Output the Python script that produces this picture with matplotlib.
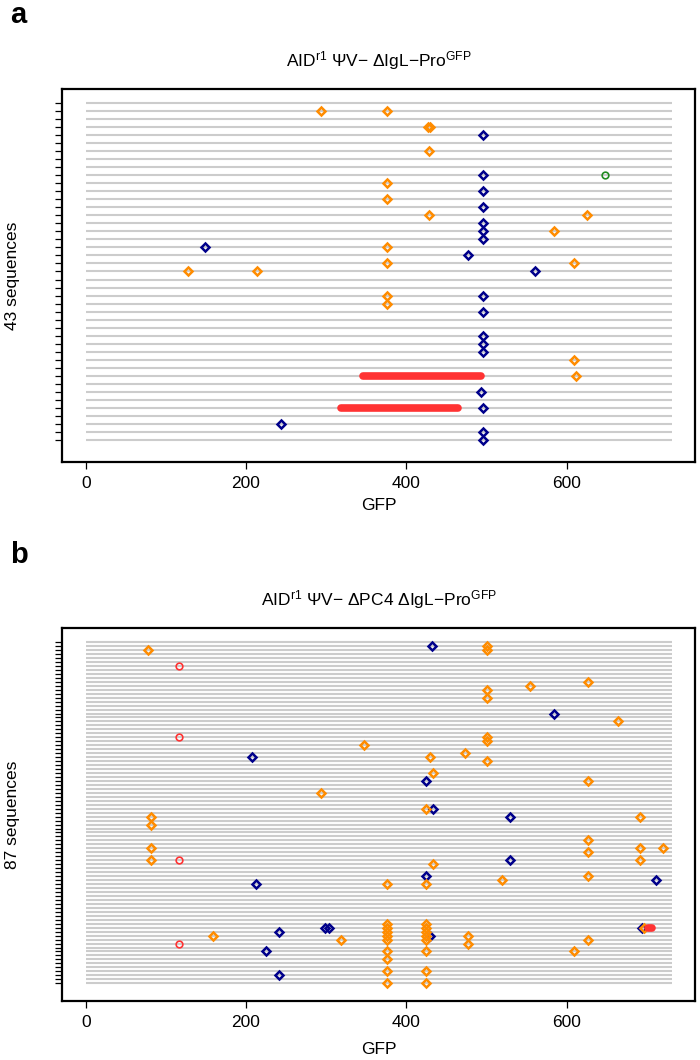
import numpy as np
import matplotlib
matplotlib.use("Agg")
import matplotlib.pyplot as plt

plt.rcParams['font.family'] = ['Liberation Sans', 'DejaVu Sans']
plt.rcParams['mathtext.fontset'] = 'custom'
plt.rcParams['mathtext.rm'] = 'Liberation Sans'
plt.rcParams['mathtext.it'] = 'Liberation Sans:italic'

# length of the GFP sequence (x range of the grey lines)
GFP_LEN = 731

# ---- panel a: 43 sequences, row 1 is the top line ----
a_title = "AID$^{\\mathrm{r1}}$ \u03a8V\u2212 \u0394IgL\u2212Pro$^{\\mathrm{GFP}}$"
a_n = 43
a_orange_row = [2, 2, 4, 4, 7, 11, 13, 15, 15, 17, 19, 21, 21, 22, 22, 25, 26, 33, 35]
a_orange_x = [293, 376, 427, 430, 428, 376, 376, 428, 625, 584, 376, 376, 609, 127, 214, 376, 376, 609, 612]
a_navy_row = [5, 10, 12, 14, 16, 17, 18, 19, 20, 22, 25, 27, 30, 31, 32, 37, 39, 41, 42, 43]
a_navy_x = [496, 496, 496, 496, 496, 496, 496, 149, 477, 561, 496, 496, 496, 496, 496, 493, 496, 244, 496, 496]
a_circle_row = [10]
a_circle_x = [648]
a_del_row = [35, 39]
a_del_start = [346, 318]
a_del_end = [493, 465]

# ---- panel b: 87 sequences ----
b_title = "AID$^{\\mathrm{r1}}$ \u03a8V\u2212 \u0394PC4 \u0394IgL\u2212Pro$^{\\mathrm{GFP}}$"
b_n = 87
b_orange_row = [2, 3, 3, 11, 12, 13, 15, 21, 25, 26, 27, 29, 30, 31, 34, 36, 39, 43,
                45, 45, 47, 51, 53, 53, 53, 54, 56, 56, 57, 60, 61, 62, 62,
                72, 72, 73, 73, 73, 74, 74, 75, 75, 75, 75, 76, 76, 76, 76, 77,
                79, 79, 79, 81, 84, 84, 87, 87]
b_orange_x = [501, 78, 501, 627, 554, 501, 501, 664, 501, 501, 347, 473, 430, 501, 433, 627, 294, 424,
              81, 691, 81, 627, 81, 691, 720, 627, 81, 691, 433, 627, 520, 376, 424,
              376, 424, 376, 424, 697, 376, 424, 376, 424, 159, 477, 376, 424, 318, 627, 477,
              376, 424, 609, 376, 376, 424, 376, 424]
b_navy_row = [2, 19, 30, 36, 43, 45, 56, 60, 61, 62, 73, 73, 73, 74, 75, 79, 85]
b_navy_x = [432, 584, 207, 424, 433, 529, 529, 424, 712, 213, 298, 304, 694, 241, 430, 225, 241]
b_circle_row = [7, 25, 56, 77]
b_circle_x = [117, 117, 117, 117]
b_del_row = [73]
b_del_start = [702]
b_del_end = [706]

W, H = 700, 1060
fig = plt.figure(figsize=(7, 10.6), dpi=100)


def fx(px):
    return px / W


def fy(py):
    return 1 - py / H


def draw_panel(ax, n, orange_row, orange_x, navy_row, navy_x, circ_row, circ_x, circ_color,
               del_row, del_start, del_end):
    rows = np.arange(1, n + 1)
    ax.hlines(rows, 0, GFP_LEN, colors='#cccccc', lw=1.5, zorder=1)
    ax.plot(navy_x, navy_row, ls='none', marker='D', ms=4.3, mfc='none', mec='#00008b', mew=1.8, zorder=3)
    ax.plot(orange_x, orange_row, ls='none', marker='D', ms=4.3, mfc='none', mec='#ff8c00', mew=1.8, zorder=3)
    ax.plot(circ_x, circ_row, ls='none', marker='o', ms=4.8, mfc='none', mec=circ_color, mew=1.2, zorder=3)
    for r, s, e in zip(del_row, del_start, del_end):
        ax.plot([s, e], [r, r], color='#ff3333', lw=5.5, solid_capstyle='round', zorder=4)

    pad = 0.04
    ax.set_xlim(-pad * GFP_LEN, GFP_LEN * (1 + pad))
    ax.set_ylim(n + 1 + pad * n, 1 - pad * n)
    ax.set_xticks([0, 200, 400, 600])
    ax.set_yticks(rows)
    ax.set_yticklabels([])
    ax.tick_params(direction='out', length=5, width=0.9, labelsize=12.5, pad=5,
                   top=False, right=False)
    for sp in ax.spines.values():
        sp.set_linewidth(1.6)


ax_a = fig.add_axes([fx(62.3), fy(462), fx(695) - fx(62.3), fy(89) - fy(462)])
draw_panel(ax_a, a_n, a_orange_row, a_orange_x, a_navy_row, a_navy_x,
           a_circle_row, a_circle_x, '#228b22', a_del_row, a_del_start, a_del_end)

ax_b = fig.add_axes([fx(62.3), fy(1001), fx(695) - fx(62.3), fy(628.3) - fy(1001)])
draw_panel(ax_b, b_n, b_orange_row, b_orange_x, b_navy_row, b_navy_x,
           b_circle_row, b_circle_x, '#ff3333', b_del_row, b_del_start, b_del_end)

# titles, labels
cx = (62.3 + 695) / 2
fig.text(fx(cx), fy(66.7), a_title, ha='center', va='baseline', fontsize=12.5)
fig.text(fx(cx), fy(605), b_title, ha='center', va='baseline', fontsize=12.5)
fig.text(fx(cx), fy(510), 'GFP', ha='center', va='baseline', fontsize=12.5)
fig.text(fx(cx), fy(1054), 'GFP', ha='center', va='baseline', fontsize=12.5)
fig.text(fx(13), fy(275.5), '43 sequences', rotation=90, ha='center', va='center', fontsize=12.5)
fig.text(fx(13), fy(814.6), '87 sequences', rotation=90, ha='center', va='center', fontsize=12.5)
fig.text(fx(10), fy(23), 'a', fontsize=21, fontweight='bold', va='baseline')
fig.text(fx(10), fy(563), 'b', fontsize=21, fontweight='bold', va='baseline')

fig.savefig('out.png', dpi=100)
